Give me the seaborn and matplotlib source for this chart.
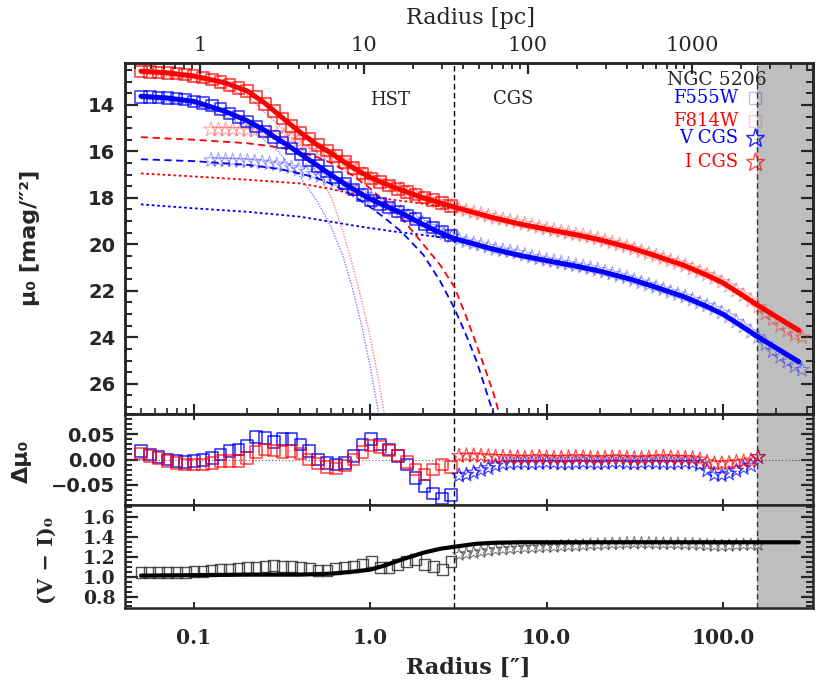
import numpy as np
import matplotlib
matplotlib.use("Agg")
import matplotlib.pyplot as plt
import matplotlib.ticker as mticker
import seaborn as sns

# HST isophotes (radius in arcsec), surface brightness, residuals and colour
hst_r = [0.0500, 0.0561, 0.0630, 0.0708, 0.0794, 0.0892, 0.1001, 0.1124, 0.1262, 0.1417,
         0.1591, 0.1786, 0.2005, 0.2251, 0.2527, 0.2837, 0.3185, 0.3576, 0.4015, 0.4507,
         0.5060, 0.5681, 0.6378, 0.7161, 0.8039, 0.9026, 1.0133, 1.1376, 1.2772, 1.4339,
         1.6098, 1.8073, 2.0291, 2.2780, 2.5575, 2.8713]
hst_v = [13.65, 13.66, 13.68, 13.70, 13.73, 13.77, 13.85, 13.92, 14.03, 14.19,
         14.37, 14.52, 14.71, 14.93, 15.15, 15.38, 15.62, 15.87, 16.14, 16.38,
         16.62, 16.87, 17.12, 17.38, 17.64, 17.88, 18.11, 18.27, 18.42, 18.59,
         18.76, 18.92, 19.12, 19.28, 19.45, 19.62]
hst_i = [12.56, 12.58, 12.60, 12.62, 12.65, 12.70, 12.75, 12.82, 12.91, 13.01,
         13.15, 13.27, 13.40, 13.67, 13.95, 14.26, 14.58, 14.90, 15.20, 15.46,
         15.73, 15.96, 16.19, 16.46, 16.71, 16.95, 17.17, 17.32, 17.47, 17.61,
         17.74, 17.85, 17.98, 18.10, 18.22, 18.34]
hst_dv = [0.017, 0.010, 0.005, 0.000, -0.003, -0.005, -0.003, -0.001, 0.003, 0.010,
          0.017, 0.020, 0.027, 0.045, 0.043, 0.035, 0.040, 0.040, 0.030, 0.017,
          0.000, -0.007, -0.010, -0.007, 0.007, 0.030, 0.041, 0.030, 0.020, 0.007,
          -0.010, -0.037, -0.052, -0.067, -0.077, -0.070]
hst_di = [0.012, 0.007, 0.003, -0.003, -0.007, -0.010, -0.010, -0.010, -0.007, -0.003,
          -0.003, -0.003, 0.003, 0.015, 0.020, 0.018, 0.015, 0.017, 0.012, 0.000,
          -0.008, -0.015, -0.018, -0.012, 0.000, 0.015, 0.028, 0.025, 0.018, 0.008,
          -0.005, -0.020, -0.030, -0.020, -0.010, -0.015]
hst_vi = [1.04, 1.04, 1.04, 1.04, 1.04, 1.04, 1.05, 1.05, 1.06, 1.07,
          1.07, 1.08, 1.09, 1.09, 1.10, 1.11, 1.10, 1.10, 1.09, 1.08,
          1.06, 1.06, 1.08, 1.09, 1.10, 1.12, 1.15, 1.09, 1.09, 1.12,
          1.15, 1.17, 1.12, 1.10, 1.07, 1.15]

# CGS isophotes
cgs_r = [0.125, 0.1375, 0.151, 0.166, 0.183, 0.201, 0.221, 0.244, 0.268, 0.295,
         0.324, 0.357, 0.392, 0.432, 0.475, 0.522, 0.574, 0.632, 0.695, 0.764,
         0.841, 0.925, 1.017, 1.119, 1.231, 1.354, 1.490, 1.639, 1.802, 1.983,
         2.181, 2.399, 2.639, 2.903, 3.193, 3.512, 3.863, 4.250, 4.675, 5.142,
         5.657, 6.222, 6.844, 7.529, 8.282, 9.110, 10.02, 11.02, 12.13, 13.34,
         14.67, 16.14, 17.75, 19.53, 21.48, 23.63, 25.99, 28.59, 31.45, 34.59,
         38.05, 41.86, 46.04, 50.65, 55.71, 61.28, 67.41, 74.15, 81.57, 89.72,
         98.70, 108.6, 119.4, 131.3, 144.5, 158.9, 174.8, 192.3, 211.5, 232.7,
         255.9, 281.5]
cgs_v = [16.38, 16.38, 16.39, 16.40, 16.41, 16.43, 16.45, 16.48, 16.52, 16.57,
         16.63, 16.70, 16.78, 16.87, 16.97, 17.07, 17.18, 17.30, 17.42, 17.56,
         17.71, 17.87, 18.03, 18.19, 18.33, 18.47, 18.62, 18.77, 18.92, 19.08,
         19.24, 19.39, 19.54, 19.68, 19.79, 19.88, 19.96, 20.03, 20.11, 20.21,
         20.26, 20.31, 20.37, 20.46, 20.54, 20.61, 20.68, 20.73, 20.79, 20.85,
         20.91, 20.96, 21.03, 21.10, 21.19, 21.27, 21.35, 21.44, 21.54, 21.64,
         21.74, 21.84, 21.94, 22.05, 22.15, 22.26, 22.39, 22.52, 22.64, 22.78,
         22.94, 23.11, 23.33, 23.54, 23.77, 23.99, 24.30, 24.60, 24.85, 25.05,
         25.25, 25.40]
cgs_i = [15.06, 15.06, 15.07, 15.07, 15.08, 15.10, 15.12, 15.15, 15.19, 15.24,
         15.31, 15.40, 15.52, 15.66, 15.82, 15.98, 16.13, 16.27, 16.43, 16.60,
         16.79, 16.98, 17.14, 17.27, 17.39, 17.52, 17.64, 17.75, 17.86, 17.98,
         18.08, 18.17, 18.27, 18.37, 18.47, 18.55, 18.63, 18.70, 18.78, 18.87,
         18.92, 18.98, 19.05, 19.12, 19.19, 19.26, 19.33, 19.39, 19.45, 19.51,
         19.57, 19.62, 19.69, 19.76, 19.85, 19.93, 20.01, 20.10, 20.20, 20.30,
         20.40, 20.50, 20.60, 20.71, 20.81, 20.92, 21.05, 21.18, 21.31, 21.46,
         21.62, 21.79, 22.00, 22.20, 22.42, 22.70, 22.98, 23.22, 23.50, 23.72,
         23.90, 24.00]
# residuals and colours exist for cgs_r[34:76] only (3" to the fit limit)
cgs_dv = [-0.032, -0.030, -0.026, -0.021, -0.017, -0.012, -0.009, -0.008, -0.007, -0.007,
          -0.008, -0.007, -0.006, -0.007, -0.008, -0.008, -0.007, -0.006, -0.007, -0.008,
          -0.007, -0.006, -0.006, -0.007, -0.008, -0.007, -0.006, -0.007, -0.007, -0.008,
          -0.007, -0.006, -0.007, -0.010, -0.022, -0.030, -0.031, -0.028, -0.022, -0.017,
          -0.012, 0.005]
cgs_di = [0.007, 0.008, 0.008, 0.007, 0.006, 0.005, 0.005, 0.004, 0.004, 0.003,
          0.004, 0.005, 0.004, 0.003, 0.003, 0.004, 0.005, 0.004, 0.003, 0.002,
          0.003, 0.004, 0.004, 0.003, 0.002, 0.002, 0.003, 0.004, 0.005, 0.004,
          0.003, 0.003, 0.002, 0.000, -0.005, -0.008, -0.008, -0.007, -0.005, -0.004,
          -0.002, 0.005]
cgs_vi = [1.22, 1.23, 1.24, 1.25, 1.26, 1.27, 1.275, 1.28, 1.285, 1.29,
          1.29, 1.295, 1.30, 1.30, 1.305, 1.31, 1.31, 1.315, 1.32, 1.32,
          1.325, 1.33, 1.33, 1.335, 1.335, 1.335, 1.335, 1.33, 1.33, 1.33,
          1.33, 1.325, 1.325, 1.32, 1.315, 1.31, 1.31, 1.31, 1.315, 1.32,
          1.32, 1.32]

# total model
model_r = [0.05, 0.07, 0.1, 0.15, 0.2, 0.25, 0.3, 0.35, 0.4, 0.5, 0.6, 0.7, 0.8, 0.9, 1.0,
           1.2, 1.5, 2.0, 2.5, 3.0, 4.0, 5.0, 7.0, 10.0, 15.0, 20.0, 30.0, 40.0, 60.0,
           80.0, 100.0, 130.0, 160.0, 200.0, 270.0]
model_v = [13.63, 13.70, 13.85, 14.28, 14.68, 15.08, 15.48, 15.80, 16.10, 16.60, 17.02,
           17.35, 17.62, 17.85, 18.05, 18.32, 18.65, 19.15, 19.50, 19.75, 20.01, 20.21,
           20.47, 20.70, 20.95, 21.15, 21.50, 21.80, 22.25, 22.65, 23.00, 23.55, 24.00,
           24.45, 25.05]
model_i = [12.55, 12.62, 12.76, 13.05, 13.40, 13.90, 14.40, 14.82, 15.18, 15.72, 16.08,
           16.42, 16.70, 16.93, 17.12, 17.38, 17.66, 18.00, 18.22, 18.40, 18.66, 18.86,
           19.12, 19.35, 19.60, 19.80, 20.15, 20.45, 20.90, 21.30, 21.65, 22.20, 22.65,
           23.10, 23.70]

# components: bulge (dashed), outer disc (dotted), nucleus (thin)
bulge_r = [0.05, 0.1, 0.2, 0.3, 0.4, 0.5, 0.6, 0.7, 0.8, 1.0, 1.2, 1.5, 2.0, 2.5, 3.0,
           3.5, 4.0, 4.5, 5.0, 5.4]
bulge_v = [16.34, 16.42, 16.58, 16.75, 16.95, 17.15, 17.40, 17.65, 17.90, 18.40, 18.85,
           19.45, 20.45, 21.60, 22.75, 23.90, 25.00, 26.20, 27.30, 28.20]
bulge_i = [15.39, 15.50, 15.65, 15.82, 16.02, 16.25, 16.50, 16.78, 17.05, 17.60, 18.15,
           18.85, 20.00, 20.90, 21.83, 23.10, 24.30, 25.40, 26.40, 27.30]
disk_r = [0.05, 0.1, 0.2, 0.4, 0.6, 0.9, 1.4, 2.0, 3.0]
disk_v = [18.28, 18.45, 18.60, 18.81, 19.03, 19.25, 19.46, 19.60, 19.77]
disk_i = [16.95, 17.08, 17.22, 17.38, 17.62, 17.92, 18.10, 18.25, 18.45]
nuc_r = [0.05, 0.1, 0.2, 0.3, 0.4, 0.5, 0.6, 0.7, 0.8, 0.9, 1.0, 1.1, 1.2]
nuc_v = [13.74, 13.97, 14.90, 16.00, 17.10, 18.15, 19.25, 20.50, 22.00, 23.60, 25.30,
         27.00, 28.60]
nuc_i = [12.66, 12.88, 13.60, 14.85, 15.80, 16.85, 17.95, 19.45, 21.00, 22.50, 24.00,
         25.60, 27.30]

# colour model
color_r = [0.05, 0.1, 0.2, 0.4, 0.6, 0.8, 1.0, 1.2, 1.5, 2.0, 2.5, 3.0, 4.0, 5.0, 7.0,
           10.0, 30.0, 100.0, 270.0]
color_vi = [1.01, 1.015, 1.02, 1.02, 1.03, 1.05, 1.07, 1.11, 1.17, 1.24, 1.28, 1.30,
            1.33, 1.34, 1.345, 1.345, 1.345, 1.345, 1.345]

pc_ticks = [1, 10, 100, 1000]
pc_labels = ['1', '10', '100', '1000']
arcsec_ticks = [0.1, 1.0, 10.0, 100.0]
arcsec_labels = ['0.1', '1.0', '10.0', '100.0']
mu_ticks = [14, 16, 18, 20, 22, 24, 26]
dmu_ticks = [-0.05, 0.0, 0.05]
dmu_labels = ['\u22120.05', '0.00', '0.05']
vi_ticks = [0.8, 1.0, 1.2, 1.4, 1.6]
vi_labels = ['0.8', '1.0', '1.2', '1.4', '1.6']

HST_CGS_SPLIT = 3.0
FIT_LIMIT = 156.0
XLIM = (0.0406, 325.0)
PC_XLIM = (0.349, 5470.0)

BLUE = '#0000ff'
RED = '#ff0000'
SANS = 'DejaVu Sans'
SERIF = 'DejaVu Serif'


def line(ax, x, y, **kw):
    sns.lineplot(x=x, y=y, ax=ax, sort=False, estimator=None, errorbar=None, **kw)


def pts(ax, x, y, marker, s, color, alpha, lw=1.0, z=3):
    sns.scatterplot(x=x, y=y, ax=ax, marker=marker, s=s, facecolors='none',
                    edgecolor=color, linewidth=lw, alpha=alpha, zorder=z)


def style_y(ax, minor):
    ax.yaxis.set_minor_locator(mticker.MultipleLocator(minor))
    ax.tick_params(axis='y', which='both', direction='in', left=True, right=True)
    ax.tick_params(axis='y', which='major', length=9, width=1.6, pad=7)
    ax.tick_params(axis='y', which='minor', length=5, width=1.4)
    ax.set_xlabel('')
    ax.set_ylabel('')


def main():
    sns.set_style("ticks")
    plt.rcParams['font.family'] = [SANS]
    plt.rcParams['axes.linewidth'] = 1.8

    fig = plt.figure(figsize=(8.3, 6.92), dpi=100)
    ax1 = fig.add_axes([0.1506, 0.4017, 0.8289, 0.5072])
    ax2 = fig.add_axes([0.1506, 0.2702, 0.8289, 0.1315])
    ax3 = fig.add_axes([0.1506, 0.1207, 0.8289, 0.1496])

    for ax in (ax1, ax2, ax3):
        ax.set_xscale('log')
        ax.set_xlim(XLIM)
        ax.axvspan(FIT_LIMIT, XLIM[1] * 2, color='#bebebe', lw=0, zorder=0)
        ax.axvline(HST_CGS_SPLIT, color='black', lw=1.0, ls=(0, (4, 2.5)), zorder=1)
        ax.axvline(FIT_LIMIT, color='#333333', lw=1.0, ls=(0, (4, 2.5)), zorder=1)
        for sp in ax.spines.values():
            sp.set_linewidth(1.8)
            sp.set_zorder(6)

    # ---- top panel: surface brightness
    line(ax1, nuc_r, nuc_v, color=BLUE, lw=1.0, alpha=0.5, ls=(0, (1, 1)), zorder=2)
    line(ax1, nuc_r, nuc_i, color=RED, lw=1.0, alpha=0.5, ls=(0, (1, 1)), zorder=2)
    line(ax1, bulge_r, bulge_v, color=BLUE, lw=1.3, ls=(0, (4, 2.5)), zorder=2)
    line(ax1, bulge_r, bulge_i, color=RED, lw=1.3, ls=(0, (4, 2.5)), zorder=2)
    line(ax1, disk_r, disk_v, color=BLUE, lw=1.3, ls=(0, (1.5, 1.5)), zorder=2)
    line(ax1, disk_r, disk_i, color=RED, lw=1.3, ls=(0, (1.5, 1.5)), zorder=2)

    pts(ax1, cgs_r, cgs_v, '*', 120, BLUE, 0.35, lw=0.8)
    pts(ax1, cgs_r, cgs_i, '*', 120, RED, 0.35, lw=0.8)
    pts(ax1, hst_r, hst_v, 's', 70, BLUE, 0.75, lw=1.2)
    pts(ax1, hst_r, hst_i, 's', 70, RED, 0.75, lw=1.2)

    line(ax1, model_r, model_v, color=BLUE, lw=3.6, zorder=4)
    line(ax1, model_r, model_i, color=RED, lw=3.6, zorder=4)

    ax1.set_ylim(27.3, 12.2)
    ax1.set_yticks(mu_ticks, [str(t) for t in mu_ticks], fontsize=14,
                   fontweight='bold', fontfamily=SANS)
    style_y(ax1, 0.5)
    ax1.tick_params(axis='x', which='both', direction='in', top=False, bottom=True,
                    labelbottom=False)
    ax1.tick_params(axis='x', which='major', length=7, width=1.5)
    ax1.tick_params(axis='x', which='minor', length=4, width=1.2)

    # labels and legend
    ax1.text(0.385, 0.895, 'HST', transform=ax1.transAxes, ha='center', va='center',
             fontsize=13, family=SERIF)
    ax1.text(0.564, 0.897, 'CGS', transform=ax1.transAxes, ha='center', va='center',
             fontsize=13, family=SERIF)
    ax1.text(0.933, 0.952, 'NGC 5206', transform=ax1.transAxes, ha='right', va='center',
             fontsize=13.5, family=SERIF)
    legend_rows = [('F555W', BLUE, 's', 0.900, 0.25),
                   ('F814W', RED, 's', 0.835, 0.2),
                   ('V CGS', BLUE, '*', 0.786, 0.85),
                   ('I CGS', RED, '*', 0.718, 0.7)]
    for label, col, mk, yy, al in legend_rows:
        ax1.text(0.891, yy, label, transform=ax1.transAxes, ha='right', va='center',
                 fontsize=13, family=SERIF, color=col)
        ax1.plot([0.915], [yy], transform=ax1.transAxes, marker=mk,
                 ms=9 if mk == 's' else 14, mfc='none', mec=col, mew=1.0, alpha=al,
                 ls='none', clip_on=False, zorder=7)

    # top axis in parsec
    axt = ax1.twiny()
    axt.set_xscale('log')
    axt.set_xlim(PC_XLIM)
    axt.set_xticks(pc_ticks, pc_labels, fontsize=15, fontfamily=SERIF)
    axt.xaxis.set_minor_locator(mticker.LogLocator(base=10, subs=np.arange(2, 10)))
    axt.xaxis.set_minor_formatter(mticker.NullFormatter())
    axt.tick_params(axis='x', which='both', direction='in', top=True, bottom=False)
    axt.tick_params(axis='x', which='major', length=8, width=1.6, pad=6)
    axt.tick_params(axis='x', which='minor', length=4.5, width=1.3)
    for sp in axt.spines.values():
        sp.set_linewidth(1.8)

    # ---- middle panel: residuals
    res_r = cgs_r[34:76]
    ax2.axhline(0.0, color='#555555', lw=0.8, ls=(0, (1, 2)), zorder=1)
    pts(ax2, hst_r, hst_dv, 's', 70, BLUE, 0.85, lw=1.1)
    pts(ax2, hst_r, hst_di, 's', 70, RED, 0.75, lw=1.1)
    pts(ax2, res_r, cgs_dv, '*', 120, BLUE, 0.7, lw=0.9)
    pts(ax2, res_r, cgs_di, '*', 120, RED, 0.7, lw=0.9)
    ax2.set_ylim(-0.09, 0.09)
    ax2.set_yticks(dmu_ticks, dmu_labels, fontsize=14, fontweight='bold', fontfamily=SANS)
    style_y(ax2, 0.01)
    ax2.xaxis.set_minor_locator(mticker.NullLocator())
    ax2.tick_params(axis='x', which='major', direction='in', top=True, bottom=True,
                    length=4, width=1.4, labelbottom=False)

    # ---- bottom panel: colour
    pts(ax3, hst_r, hst_vi, 's', 60, '#333333', 0.85, lw=1.0)
    pts(ax3, res_r, cgs_vi, '*', 95, '#444444', 0.7, lw=0.8)
    line(ax3, color_r, color_vi, color='black', lw=3.0, zorder=4)
    ax3.set_ylim(0.68, 1.72)
    ax3.set_yticks(vi_ticks, vi_labels, fontsize=13.5, fontweight='bold', fontfamily=SERIF)
    style_y(ax3, 0.05)
    ax3.set_xticks(arcsec_ticks, arcsec_labels, fontsize=14.5, fontweight='bold',
                   fontfamily=SERIF)
    ax3.xaxis.set_minor_locator(mticker.NullLocator())
    ax3.tick_params(axis='x', which='major', direction='in', top=True, bottom=True,
                    length=4, width=1.4, pad=14)
    ax3.set_xlim(XLIM)

    # axis titles
    fig.text(468 / 830, 1 - 668 / 692, 'Radius [\u2033]', ha='center', va='center',
             fontsize=16, fontweight='bold', family=SERIF)
    fig.text(470 / 830, 1 - 18 / 692, 'Radius [pc]', ha='center', va='center',
             fontsize=16, family=SERIF)
    fig.text(30 / 830, 1 - 238 / 692, '\u03bc\u2080 [mag/\u2033\u00b2]', rotation=90,
             ha='center', va='center', fontsize=16, fontweight='bold', family=SANS)
    fig.text(22 / 830, 1 - 461 / 692, '\u0394\u03bc\u2080', rotation=90,
             ha='center', va='center', fontsize=16, fontweight='bold', family=SANS)
    fig.text(47 / 830, 1 - 560 / 692, '(V \u2212 I)\u2080', rotation=90,
             ha='center', va='center', fontsize=15, fontweight='bold', family=SERIF)

    fig.savefig('out.png', dpi=100)
    plt.close(fig)


if __name__ == "__main__":
    main()
